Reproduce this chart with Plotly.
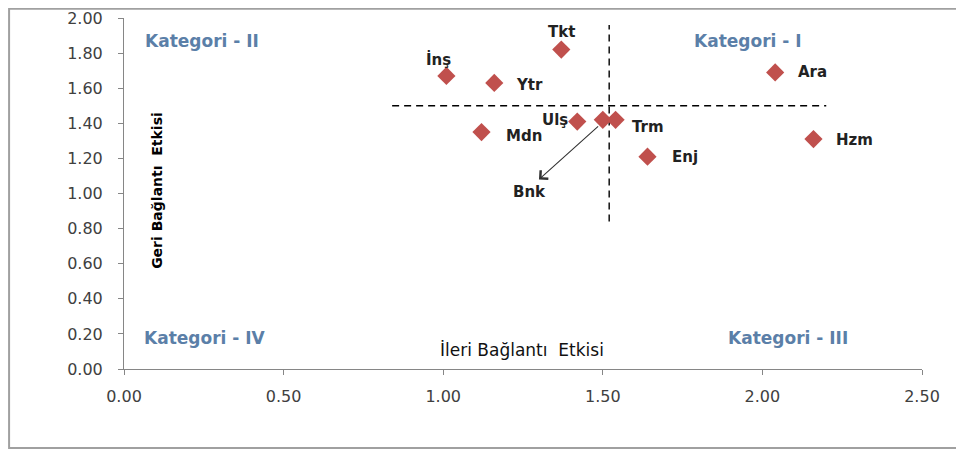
import plotly.graph_objects as go

# sector codes with forward (x) and backward (y) linkage effects
sectors = ["Tkt", "İnş", "Ytr", "Ara", "Mdn", "Ulş", "Bnk", "Trm", "Enj", "Hzm"]
forward = [1.37, 1.01, 1.16, 2.04, 1.12, 1.42, 1.50, 1.54, 1.64, 2.16]
backward = [1.82, 1.67, 1.63, 1.69, 1.35, 1.41, 1.42, 1.42, 1.21, 1.31]

# quadrant split lines
split_x = [1.52, 1.52]
split_x_span = [0.84, 1.96]
split_y = [1.50, 1.50]
split_y_span = [0.84, 2.20]

categories = ["Kategori - II", "Kategori - I", "Kategori - IV", "Kategori - III"]
x_ticks = [0.0, 0.5, 1.0, 1.5, 2.0, 2.5]
y_ticks = [0.0, 0.2, 0.4, 0.6, 0.8, 1.0, 1.2, 1.4, 1.6, 1.8, 2.0]

# label placement (xanchor, xshift, yshift) per sector
label_pos = {
    "Tkt": ("center", 0, 18),
    "İnş": ("center", -8, 16),
    "Ytr": ("left", 20, -2),
    "Ara": ("left", 21, 0),
    "Mdn": ("left", 22, -4),
    "Ulş": ("right", -7, 2),
    "Trm": ("left", 14, -7),
    "Enj": ("left", 23, 0),
    "Hzm": ("left", 21, -1),
}

MARKER = "#C0504D"
CAT_COLOR = "#5B7FA8"
FONT = "DejaVu Sans"

fig = go.Figure()

fig.add_trace(go.Scatter(
    x=split_y_span, y=split_y, mode="lines",
    line=dict(color="black", width=1.4, dash="7px,5px"),
    hoverinfo="skip", showlegend=False,
))
fig.add_trace(go.Scatter(
    x=split_x, y=split_x_span, mode="lines",
    line=dict(color="black", width=1.4, dash="7px,5px"),
    hoverinfo="skip", showlegend=False,
))
fig.add_trace(go.Scatter(
    x=forward, y=backward, mode="markers",
    marker=dict(symbol="diamond", size=14, color=MARKER),
    text=sectors, showlegend=False,
))

for name, xv, yv in zip(sectors, forward, backward):
    if name == "Bnk":
        # arrow pointing from the point down-left to its label
        fig.add_annotation(
            x=xv - 0.20, y=yv - 0.34, ax=xv - 0.01, ay=yv - 0.03,
            axref="x", ayref="y", xref="x", yref="y",
            showarrow=True, arrowhead=4, arrowsize=2.0, arrowwidth=1.1,
            arrowcolor="#333333", text="",
        )
        fig.add_annotation(
            x=xv - 0.23, y=yv - 0.41, text=name, showarrow=False,
            font=dict(family=FONT, size=15, color="#222222", weight="bold"),
        )
        continue
    anchor, dx, dy = label_pos[name]
    fig.add_annotation(
        x=xv, y=yv, text=name, showarrow=False,
        xanchor=anchor, xshift=dx, yshift=dy,
        font=dict(family=FONT, size=15, color="#222222", weight="bold"),
    )

cat_xy = [(0.06, 1.87, "left"), (1.955, 1.87, "center"),
          (0.055, 0.175, "left"), (2.08, 0.175, "center")]
for label, (cx, cy, anchor) in zip(categories, cat_xy):
    fig.add_annotation(
        x=cx, y=cy, text=label, showarrow=False, xanchor=anchor,
        font=dict(family=FONT, size=17, color=CAT_COLOR, weight="bold"),
    )

fig.add_annotation(
    x=0.103, y=1.02, text="Geri Bağlantı  Etkisi", textangle=-90, showarrow=False,
    font=dict(family=FONT, size=14, color="black", weight="bold"),
)
fig.add_annotation(
    x=1.248, y=0.106, text="İleri Bağlantı  Etkisi", showarrow=False,
    font=dict(family=FONT, size=17, color="#111111"),
)

tick_font = dict(family=FONT, size=16, color="#404040")
fig.update_layout(
    width=964, height=451,
    paper_bgcolor="white", plot_bgcolor="white",
    margin=dict(l=116, r=50, t=10, b=90),
    xaxis=dict(
        range=[0, 2.5], tickvals=x_ticks, ticktext=[f"{v:.2f}" for v in x_ticks],
        showgrid=False, zeroline=False, showline=True, linecolor="#868686",
        ticks="outside", ticklen=5, tickcolor="#868686",
        ticklabelstandoff=8, tickfont=tick_font, automargin=False,
    ),
    yaxis=dict(
        range=[0, 2.0], tickvals=y_ticks, ticktext=[f"{v:.2f}" for v in y_ticks],
        showgrid=False, zeroline=False, showline=True, linecolor="#868686",
        ticks="outside", ticklen=5, tickcolor="#868686",
        ticklabelstandoff=12, tickfont=tick_font, automargin=False,
    ),
    shapes=[dict(
        type="rect", xref="paper", yref="paper",
        x0=-0.144, x1=1.2, y0=-0.225, y1=1.026,
        line=dict(color="#A0A0A0", width=2), fillcolor="rgba(0,0,0,0)",
    )],
)

fig.write_html("out.html")
